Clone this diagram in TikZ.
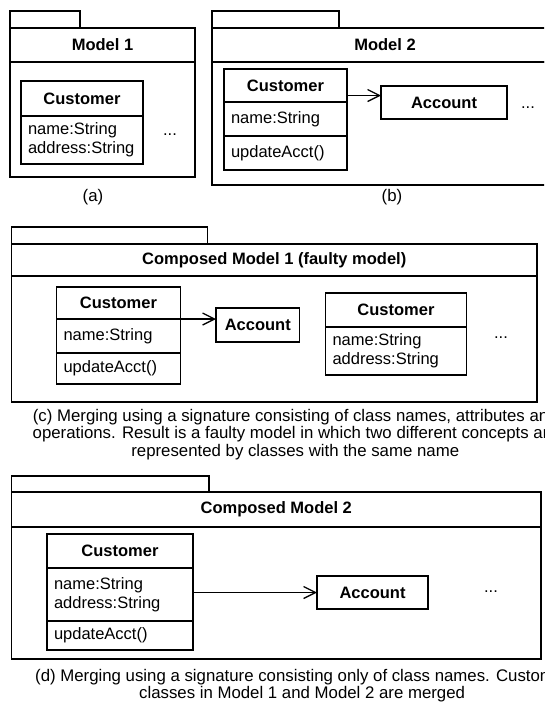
\documentclass[tikz,border=0pt]{standalone}
\usepackage{fontspec}
\setmainfont{Liberation Sans}
\usepackage{tikz}
\usetikzlibrary{arrows.meta,positioning,calc}

\begin{document}
\fontsize{16.5}{19}\selectfont
\begin{tikzpicture}[x=1pt,y=-1pt,
    pkgtab/.style={draw,line width=1.8pt,inner sep=0pt,outer sep=0pt},
    pkghead/.style={draw,line width=1.8pt,inner sep=0pt,outer sep=0pt,font=\bfseries},
    pkgbody/.style={draw,line width=1.8pt,inner sep=0pt,outer sep=0pt},
    clsname/.style={draw,line width=1.8pt,inner sep=0pt,outer sep=0pt,font=\bfseries},
    clsfield/.style={draw,line width=1.8pt,inner xsep=7pt,inner ysep=0pt,outer sep=0pt,align=left},
    moredots/.style={inner sep=0pt},
    subcap/.style={inner sep=0pt,align=center,font=\fontsize{16.8}{17.5}\selectfont},
    assoc/.style={-{Straight Barb[length=12pt,width=12pt]},line width=1.3pt}
  ]
    \useasboundingbox (0,0) rectangle (544,702);
    \clip (0,0) rectangle (544,702);

    % (a) Model 1
    \node[pkghead,minimum width=185pt,minimum height=34pt,anchor=north west] (m1head) at (10,28) {Model 1};
    \node[pkgtab,minimum width=70pt,minimum height=17pt,anchor=south west] (m1tab) at (m1head.north west) {};
    \node[pkgbody,minimum width=185pt,minimum height=115pt,anchor=north west] (m1body) at (m1head.south west) {};
    \node[clsname,minimum width=122pt,minimum height=35pt,anchor=north west] (custA) at (21,81) {Customer};
    \node[clsfield,text width=108pt,minimum height=48pt,anchor=north west] (custAattr) at (custA.south west) {name:String\\address:String};
    \node[moredots] (moreA) at (170,135) {...};
    \node[subcap] (capA) at (93,197) {(a)};

    % (b) Model 2
    \node[pkghead,minimum width=346pt,minimum height=34pt,anchor=north west] (m2head) at (212,28) {Model 2};
    \node[pkgtab,minimum width=127pt,minimum height=17pt,anchor=south west] (m2tab) at (m2head.north west) {};
    \node[pkgbody,minimum width=346pt,minimum height=123pt,anchor=north west] (m2body) at (m2head.south west) {};
    \node[clsname,minimum width=123pt,minimum height=33pt,anchor=north west] (custB) at (224,69) {Customer};
    \node[clsfield,text width=109pt,minimum height=34pt,anchor=north west] (custBattr) at (custB.south west) {name:String};
    \node[clsfield,text width=109pt,minimum height=34pt,anchor=north west] (custBops) at (custBattr.south west) {updateAcct()};
    \node[clsname,minimum width=126pt,minimum height=33pt,anchor=north west] (acctB) at (381,86) {Account};
    \draw[assoc] ([yshift=7pt]acctB.west -| custB.east) -- ([yshift=7pt]acctB.west);
    \node[moredots] (moreB) at (528,108) {...};
    \node[subcap] (capB) at (392,197) {(b)};

    % (c) Composed Model 1
    \node[pkghead,minimum width=525.5pt,minimum height=32pt,anchor=north west] (c1head) at (11.5,244) {Composed Model 1 (faulty model)};
    \node[pkgtab,minimum width=196pt,minimum height=17pt,anchor=south west] (c1tab) at (c1head.north west) {};
    \node[pkgbody,minimum width=525.5pt,minimum height=126pt,anchor=north west] (c1body) at (c1head.south west) {};
    \node[clsname,minimum width=124pt,minimum height=32pt,anchor=north west] (custC) at (56.5,287) {Customer};
    \node[clsfield,text width=110pt,minimum height=34pt,anchor=north west] (custCattr) at (custC.south west) {name:String};
    \node[clsfield,text width=110pt,minimum height=31pt,anchor=north west] (custCops) at (custCattr.south west) {updateAcct()};
    \node[clsname,minimum width=83.5pt,minimum height=34pt,anchor=north west] (acctC) at (216,308) {Account};
    \draw[assoc] ([yshift=6pt]acctC.west -| custC.east) -- ([yshift=6pt]acctC.west);
    \node[clsname,minimum width=141pt,minimum height=34pt,anchor=north west] (custC2) at (325.5,293) {Customer};
    \node[clsfield,text width=127pt,minimum height=48pt,anchor=north west] (custC2attr) at (custC2.south west) {name:String\\address:String};
    \node[moredots] (moreC) at (501,338) {...};
    \node[subcap,anchor=north west] (capC) at (32.5,409) {(c) Merging using a signature consisting of class names, attributes and\\operations. Result is a faulty model in which two different concepts are\\represented by classes with the same name};

    % (d) Composed Model 2
    \node[pkghead,minimum width=529.5pt,minimum height=35pt,anchor=north west] (c2head) at (11.5,492) {Composed Model 2};
    \node[pkgtab,minimum width=197.5pt,minimum height=16pt,anchor=south west] (c2tab) at (c2head.north west) {};
    \node[pkgbody,minimum width=529.5pt,minimum height=132pt,anchor=north west] (c2body) at (c2head.south west) {};
    \node[clsname,minimum width=146pt,minimum height=34pt,anchor=north west] (custD) at (47,534) {Customer};
    \node[clsfield,text width=132pt,minimum height=53pt,anchor=north west] (custDattr) at (custD.south west) {name:String\\address:String};
    \node[clsfield,text width=132pt,minimum height=29pt,anchor=north west] (custDops) at (custDattr.south west) {updateAcct()};
    \node[clsname,minimum width=111pt,minimum height=33pt,anchor=north west] (acctD) at (317,576) {Account};
    \draw[assoc] (acctD.west -| custD.east) -- (acctD.west);
    \node[moredots] (moreD) at (491,592) {...};
    \node[subcap,anchor=north west] (capD) at (35,669) {(d) Merging using a signature consisting only of class names. Customer\\classes in Model 1 and Model 2 are merged};
\end{tikzpicture}
\end{document}
